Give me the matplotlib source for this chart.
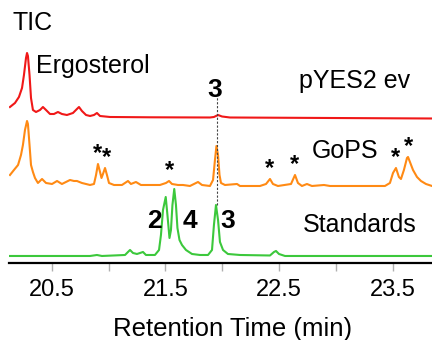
# ==========================================================
# GC-MS TIC traces: pYES2 ev / GoPS / Standards
# ==========================================================

import matplotlib.pyplot as plt

plt.rcParams["font.family"] = ["Liberation Sans", "DejaVu Sans"]

# ----------------------------------------------------------
# 1. Data (retention time in min, signal above each baseline)
# ----------------------------------------------------------
red_time = [20.133, 20.177, 20.212, 20.239, 20.256, 20.274, 20.283, 20.291,
            20.305, 20.318, 20.335, 20.362, 20.397, 20.423, 20.450, 20.485,
            20.520, 20.555, 20.590, 20.634, 20.687, 20.722, 20.740, 20.766,
            20.802, 20.837, 20.872, 20.898, 20.925, 21.013, 21.364, 21.892,
            21.927, 21.963, 21.998, 22.068, 23.845]
red_signal = [11, 15, 21, 30, 43, 60, 65, 62,
              43, 20, 8, 6, 8, 11, 8, 4,
              4, 6, 4, 3, 5, 9, 11, 7,
              3, 2, 3, 5, 2, 1, 0.7, 0.5,
              1, 3, 1.5, 0.5, -0.5]

orange_time = [20.133, 20.168, 20.204, 20.230, 20.247, 20.265, 20.283, 20.291,
               20.305, 20.318, 20.335, 20.353, 20.379, 20.415, 20.450, 20.503,
               20.547, 20.590, 20.661, 20.696, 20.722, 20.766, 20.837, 20.872,
               20.890, 20.907, 20.925, 20.938, 20.951, 20.969, 20.986, 21.004,
               21.048, 21.118, 21.171, 21.197, 21.241, 21.285, 21.364, 21.452,
               21.505, 21.532, 21.558, 21.611, 21.655, 21.716, 21.787, 21.822,
               21.892, 21.919, 21.936, 21.949, 21.963, 21.976, 21.989, 22.024,
               22.130, 22.156, 22.332, 22.385, 22.420, 22.446, 22.490, 22.605,
               22.640, 22.666, 22.701, 22.745, 22.789, 22.895, 22.948, 23.431,
               23.475, 23.502, 23.528, 23.554, 23.572, 23.598, 23.625, 23.634,
               23.651, 23.678, 23.713, 23.748, 23.792, 23.845]
orange_signal = [11, 16, 21, 31, 41, 56, 65, 62,
                 41, 21, 14, 8, 3, 7, 3, 2,
                 5, 2, 6, 5, 5, 3, 1, 2,
                 11, 22, 14, 8, 12, 18, 11, 3,
                 1, 1, 5, 2, 4, 1, 1, 1,
                 3, 5, 2, 1, 1, 0, 4, 1,
                 0, 6, 26, 40, 31, 11, 3, 1,
                 2, 0, 0, 2, 7, 2, 0, 2,
                 11, 3, 0, 2, 0, 1, 0, 0,
                 3, 13, 18, 9, 7, 16, 28, 29,
                 24, 16, 9, 5, 2, 0]

green_time = [20.133, 20.837, 20.898, 20.942, 21.145, 21.171, 21.189, 21.215,
              21.250, 21.277, 21.303, 21.329, 21.408, 21.444, 21.461, 21.479,
              21.503, 21.518, 21.536, 21.549, 21.562, 21.578, 21.593, 21.606,
              21.624, 21.646, 21.681, 21.734, 21.804, 21.875, 21.910, 21.927,
              21.945, 21.963, 21.980, 22.007, 22.050, 22.156, 22.420, 22.455,
              22.473, 22.499, 22.552, 23.845]
green_signal = [0, 0, 1, 0, 1, 4, 6, 3,
                2, 3, 4, 1, 1, 6, 21, 46,
                59, 41, 18, 26, 51, 67, 51, 28,
                16, 11, 6, 2, 1, 1, 6, 31,
                51, 36, 14, 6, 2, 1, 0.5, 4,
                5, 2, 0, 0]

trace_labels = ["pYES2 ev", "GoPS", "Standards"]
peak_numbers = ["2", "4", "3"]
peak3_time = 21.951

# unknown peaks marked with * in GoPS
star_time = [20.907, 20.986, 21.532, 22.420, 22.640, 23.528, 23.634]
star_signal = [22, 18, 5, 7, 11, 18, 29]

tick_major = [20.5, 21.5, 22.5, 23.5]
tick_minor = [21.0, 22.0, 23.0]

# ----------------------------------------------------------
# 2. Figure
# ----------------------------------------------------------
fig = plt.figure(figsize=(4.32, 3.40), dpi=100)
ax = fig.add_axes([0.0215, 0.2274, 0.9785, 0.7726])

offset_red, offset_orange, offset_green = 144.7, 76.7, 6.7

ax.plot(red_time, [s + offset_red for s in red_signal],
        color="#f01818", lw=1.5, solid_joinstyle="round")
ax.plot(orange_time, [s + offset_orange for s in orange_signal],
        color="#ff8a14", lw=1.5, solid_joinstyle="round")
ax.plot(green_time, [s + offset_green for s in green_signal],
        color="#3cc83c", lw=1.5, solid_joinstyle="round")

# dashed guide at peak 3
ax.plot([peak3_time, peak3_time], [57.7, 165.7],
        color="#444444", lw=0.8, ls=(0, (2, 1.5)))

# asterisks
for t, s in zip(star_time, star_signal):
    ax.text(t, s + offset_orange + 4, "*", ha="center", va="baseline",
            fontsize=17, fontweight="bold")

# ----------------------------------------------------------
# 3. Labels
# ----------------------------------------------------------
lab = dict(fontsize=18, va="baseline", ha="left")
ax.text(20.157, 232.7, "TIC", **lab)
ax.text(20.362, 189.7, "Ergosterol", **lab)
ax.text(22.675, 174.4, trace_labels[0], **lab)
ax.text(22.789, 104.7, trace_labels[1], **lab)
ax.text(22.710, 30.7, trace_labels[2], **lab)

num = dict(fontsize=19, fontweight="bold", va="baseline", ha="center")
ax.text(21.932, 165.7, "3", **num)
ax.text(21.400, 34.7, peak_numbers[0], **num)
ax.text(21.712, 34.7, peak_numbers[1], **num)
ax.text(22.046, 34.7, peak_numbers[2], **num)

# ----------------------------------------------------------
# 4. Axes styling
# ----------------------------------------------------------
ax.set_xlim(20.127, 23.845)
ax.set_ylim(0, 262.7)
for side in ["left", "right", "top"]:
    ax.spines[side].set_visible(False)
ax.spines["bottom"].set_linewidth(1.6)
ax.set_yticks([])

ax.set_xticks(tick_major)
ax.set_xticklabels([f"{v:.1f}" for v in tick_major])
ax.set_xticks(tick_minor, minor=True)
ax.tick_params(axis="x", which="both", direction="out", length=5.5,
               width=1, color="#b0b0b0", labelsize=17, pad=6)

fig.text(232.5 / 432, 1 - 336 / 340, "Retention Time (min)",
         ha="center", va="baseline", fontsize=18.5)

fig.savefig("out.png", dpi=100)
